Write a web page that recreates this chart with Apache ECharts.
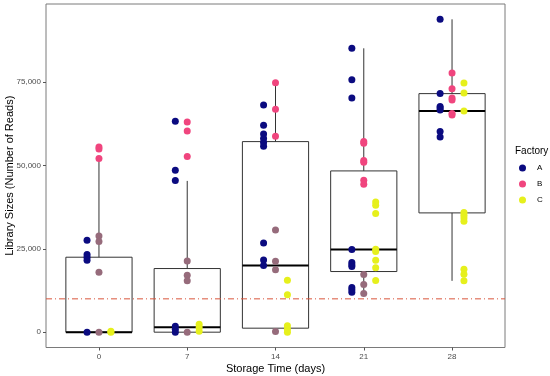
<!DOCTYPE html>
<html>
<head>
<meta charset="utf-8">
<script src="https://cdn.jsdelivr.net/npm/echarts@6/dist/echarts.min.js"></script>
<style>html,body{margin:0;padding:0;background:#fff;}#c{width:550px;height:376px;}</style>
</head>
<body>
<div id="c"></div>
<script>
// ---- data ----
const days = ['0', '7', '14', '21', '28'];
const yTicks = [0, 25000, 50000, 75000];
const threshold = 10000;

// box statistics per storage time
const boxMin = [0, 0, 0, 11600, 15400];
const boxQ1  = [0, 0, 1200, 18200, 35800];
const boxMed = [0, 1500, 20000, 24800, 66400];
const boxQ3  = [22500, 19100, 57200, 48400, 71600];
const boxMax = [52100, 45400, 74900, 85200, 93900];

// library sizes per factory, per storage time
const factoryA = [
  [27600, 23300, 22500, 21600, 0],
  [63300, 48600, 45500, 1800, 900, 0],
  [68200, 62100, 59500, 58100, 56900, 55800, 26800, 21700, 20000],
  [85200, 75800, 70300, 24800, 20900, 20200, 19700, 13400, 12700, 12000],
  [93900, 71600, 67700, 67300, 66700, 60200, 58600]
];
const factoryB = [
  [55600, 55000, 52100],
  [63100, 60400, 52700],
  [74900, 66900, 58800],
  [57200, 56700, 51500, 51000, 45600, 44400],
  [77800, 73100, 70300, 69700, 65600, 65200]
];
const factoryBdim = [
  [28900, 27200, 18000, 0],
  [21400, 17100, 15400, 0],
  [30700, 21300, 18700, 200],
  [17300, 14300, 11600],
  []
];
const factoryC = [
  [300, 0],
  [2400, 1400, 300],
  [15600, 11200, 1900, 900, 0],
  [39100, 38100, 35600, 24900, 24200, 21600, 19300, 15500],
  [74800, 71800, 66400, 35900, 35100, 34300, 33300, 18900, 17400, 15400]
];

// ---- build ----
const X_MIN = -0.6, X_MAX = 4.6;
function pts(groups, off) {
  const out = [];
  groups.forEach((g, i) => g.forEach(v => out.push([i + off, v])));
  return out;
}
const boxData = days.map((d, i) => [i, boxMin[i], boxQ1[i], boxMed[i], boxQ3[i], boxMax[i]]);
const font = 'Liberation Sans, Arial, sans-serif';
const colA = '#0b0b80', colB = '#f0457e', colC = '#e6f01c', colBd = '#966b7b';
const BOXW = 0.75;

const chart = echarts.init(document.getElementById('c'), null, {renderer: 'canvas'});
chart.setOption({
  animation: false,
  backgroundColor: '#ffffff',
  textStyle: {fontFamily: font},
  grid: {left: 46, right: 45, top: 4, bottom: 28.5, outerBoundsMode: 'none', containLabel: false,
         show: true, borderColor: '#7a7a7a', borderWidth: 1, backgroundColor: 'transparent'},
  title: {text: 'Factory', left: 515, top: 146, padding: 0, textStyle: {fontFamily: font, fontSize: 10, fontWeight: 'normal', color: '#000'}},
  legend: {
    orient: 'vertical', left: 519, top: 164, itemWidth: 7, itemHeight: 7, itemGap: 8, padding: 0,
    icon: 'circle', data: ['A', 'B', 'C'],
    textStyle: {fontFamily: font, fontSize: 8, color: '#000', padding: [0, 0, 0, 6]}
  },
  xAxis: {
    type: 'value', min: X_MIN, max: X_MAX,
    name: 'Storage Time (days)', nameLocation: 'middle', nameGap: 16, nameMoveOverlap: false,
    nameTextStyle: {fontFamily: font, fontSize: 11, color: '#000'},
    axisLine: {show: false, onZero: false},
    axisTick: {show: true, length: 3, lineStyle: {color: '#555'}, customValues: [0, 1, 2, 3, 4]},
    axisLabel: {customValues: [0, 1, 2, 3, 4], formatter: v => days[Math.round(v)], fontSize: 8, color: '#4d4d4d', margin: 5},
    splitLine: {show: false}
  },
  yAxis: {
    type: 'value', min: -4600, max: 98500,
    name: 'Library Sizes (Number of Reads)', nameLocation: 'middle', nameGap: 31, nameRotate: 90, nameMoveOverlap: false,
    nameTextStyle: {fontFamily: font, fontSize: 11, color: '#000'},
    axisLine: {show: false, onZero: false},
    axisTick: {show: true, length: 3, lineStyle: {color: '#555'}, customValues: yTicks},
    axisLabel: {customValues: yTicks, formatter: v => v.toLocaleString('en-US'), fontSize: 8, color: '#4d4d4d', margin: 5},
    splitLine: {show: false}
  },
  series: [
    {
      type: 'custom', name: 'box', z: 1,
      data: boxData,
      encode: {x: 0, y: [1, 2, 3, 4, 5]},
      renderItem: function (params, api) {
        const x = api.value(0);
        const w = api.size([BOXW, 0])[0];
        const pMin = api.coord([x, api.value(1)]);
        const pQ1 = api.coord([x, api.value(2)]);
        const pMed = api.coord([x, api.value(3)]);
        const pQ3 = api.coord([x, api.value(4)]);
        const pMax = api.coord([x, api.value(5)]);
        const st = {stroke: '#333', lineWidth: 1, fill: null};
        return {type: 'group', children: [
          {type: 'line', shape: {x1: pMin[0], y1: pMin[1], x2: pQ1[0], y2: pQ1[1]}, style: st},
          {type: 'line', shape: {x1: pQ3[0], y1: pQ3[1], x2: pMax[0], y2: pMax[1]}, style: st},
          {type: 'rect', shape: {x: pQ3[0] - w / 2, y: pQ3[1], width: w, height: pQ1[1] - pQ3[1]}, style: {stroke: '#333', lineWidth: 1, fill: 'rgba(255,255,255,0)'}},
          {type: 'line', shape: {x1: pMed[0] - w / 2, y1: pMed[1], x2: pMed[0] + w / 2, y2: pMed[1]}, style: {stroke: '#000', lineWidth: 2}}
        ]};
      }
    },
    {type: 'line', name: 'threshold', z: 2, silent: true, symbol: 'none',
      lineStyle: {color: '#d9553a', width: 1, type: [6, 3, 1, 3], opacity: 1},
      itemStyle: {color: '#d9553a'},
      data: [[X_MIN, threshold], [X_MAX, threshold]]},
    {type: 'scatter', name: 'A', z: 3, symbolSize: 7, itemStyle: {color: colA, opacity: 1}, data: pts(factoryA, -0.135)},
    {type: 'scatter', name: 'B', z: 3, symbolSize: 7, itemStyle: {color: colB, opacity: 1}, data: pts(factoryB, 0)},
    {type: 'scatter', name: 'B ', z: 3, symbolSize: 7, itemStyle: {color: colBd, opacity: 1}, data: pts(factoryBdim, 0)},
    {type: 'scatter', name: 'C', z: 3, symbolSize: 7, itemStyle: {color: colC, opacity: 1}, data: pts(factoryC, 0.135)}
  ]
});
</script>
</body>
</html>
